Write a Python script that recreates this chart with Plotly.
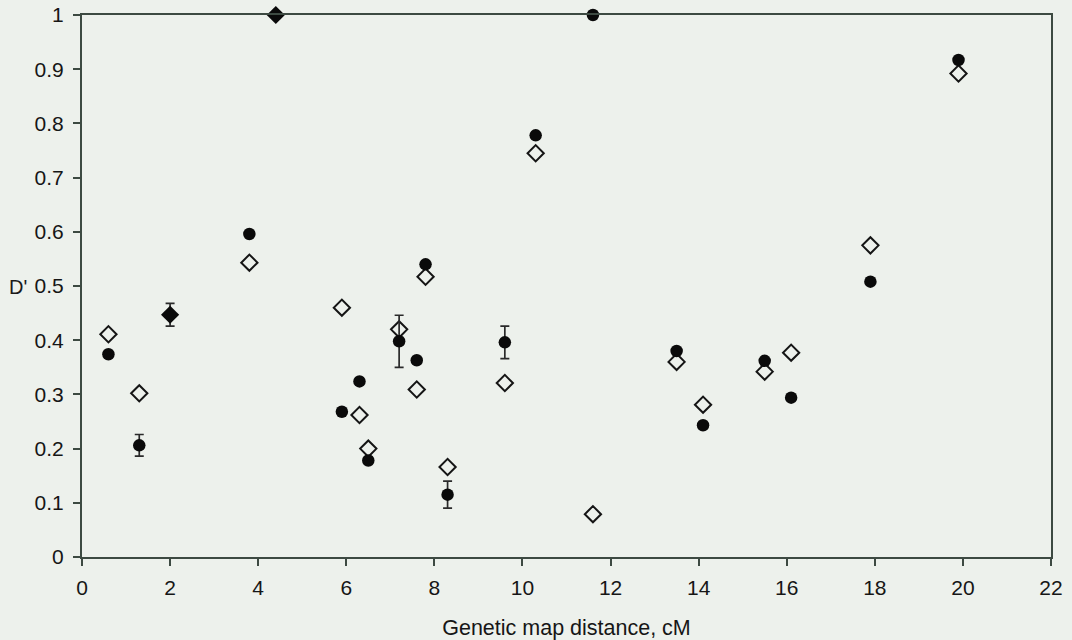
import plotly.graph_objects as go

# Linkage disequilibrium (D') against genetic map distance (cM)
# Filled circles: one population; open diamonds: the other
circle_x = [0.6, 1.3, 3.8, 5.9, 6.3, 6.5, 7.2, 7.6, 7.8, 8.3, 9.6, 10.3, 11.6,
            13.5, 14.1, 15.5, 16.1, 17.9, 19.9]
circle_y = [0.374, 0.206, 0.596, 0.268, 0.324, 0.178, 0.398, 0.363, 0.540, 0.115,
            0.396, 0.778, 1.0, 0.380, 0.243, 0.362, 0.294, 0.508, 0.917]
circle_err = [0, 0.020, 0, 0, 0, 0, 0.048, 0, 0, 0.025,
              0.030, 0, 0, 0, 0, 0, 0, 0, 0]

diamond_x = [0.6, 1.3, 3.8, 5.9, 6.3, 6.5, 7.2, 7.6, 7.8, 8.3, 9.6, 10.3, 11.6,
             13.5, 14.1, 15.5, 16.1, 17.9, 19.9]
diamond_y = [0.411, 0.302, 0.543, 0.460, 0.262, 0.200, 0.420, 0.309, 0.517, 0.166,
             0.321, 0.745, 0.079, 0.360, 0.281, 0.342, 0.377, 0.575, 0.892]

# Loci where both populations share the same value
shared_x = [2.0, 4.4]
shared_y = [0.447, 1.0]
shared_err = [0.021, 0]

x_ticks = list(range(0, 23, 2))
y_ticks = [round(0.1 * i, 1) for i in range(11)]
y_tick_text = ["0", "0.1", "0.2", "0.3", "0.4", "0.5", "0.6", "0.7", "0.8", "0.9", "1"]

bg = "#edf1ec"
axis_col = "#3d4a42"
font_family = "Liberation Sans, Arial, sans-serif"

fig = go.Figure()

fig.add_trace(go.Scatter(
    x=diamond_x, y=diamond_y, mode="markers", cliponaxis=False,
    marker=dict(symbol="diamond-open", size=12.5, color="#151515",
                line=dict(width=2, color="#151515")),
))

fig.add_trace(go.Scatter(
    x=circle_x, y=circle_y, mode="markers", cliponaxis=False,
    marker=dict(symbol="circle", size=12.5, color="#0a0a0a"),
    error_y=dict(type="data", array=circle_err, visible=True,
                 color="#2a2a2a", thickness=1.7, width=4.5),
))

fig.add_trace(go.Scatter(
    x=shared_x, y=shared_y, mode="markers", cliponaxis=False,
    marker=dict(symbol="diamond", size=14, color="#0a0a0a"),
    error_y=dict(type="data", array=shared_err, visible=True,
                 color="#2a2a2a", thickness=1.7, width=4.5),
))

fig.add_annotation(
    text="D'", xref="paper", yref="y", x=0, y=0.498, xanchor="left",
    xshift=-75, showarrow=False, font=dict(size=20, color="#1a1a1a", family=font_family),
)

fig.update_layout(
    width=1072, height=640,
    margin=dict(l=82, r=21, t=15, b=83, autoexpand=False),
    paper_bgcolor=bg, plot_bgcolor=bg,
    showlegend=False,
    font=dict(family=font_family, size=21, color="#161616"),
    xaxis=dict(
        range=[0, 22], tickvals=x_ticks, showgrid=False, zeroline=False,
        showline=True, linecolor=axis_col, linewidth=2, mirror=True,
        ticks="outside", ticklen=7, tickcolor=axis_col, tickwidth=1.5,
        ticklabelstandoff=4, automargin=False,
        title=dict(text="Genetic map distance, cM", font=dict(size=21.5), standoff=22),
    ),
    yaxis=dict(
        range=[0, 1], tickvals=y_ticks, ticktext=y_tick_text, showgrid=False,
        zeroline=False, showline=True, linecolor=axis_col, linewidth=2, mirror=True,
        ticks="outside", ticklen=7, tickcolor=axis_col, tickwidth=1.5,
        ticklabelstandoff=5, automargin=False,
    ),
)

fig.write_html("out.html")
